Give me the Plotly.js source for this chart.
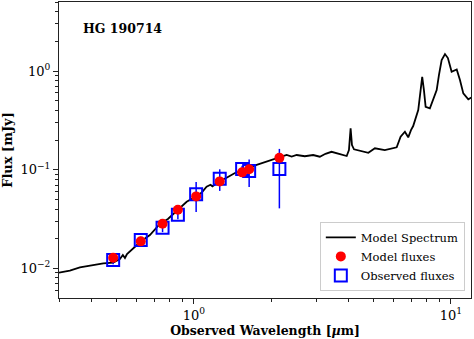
<!DOCTYPE html>
<html>
<head>
<meta charset="utf-8">
<script src="https://cdn.plot.ly/plotly-3.0.1.min.js"></script>
<style>
  body { margin: 0; background: #fff; }
  #sed { width: 474px; height: 339px; }
</style>
</head>
<body>
<div id="sed"></div>
<script>
// model spectrum
const specWave = [
  0.2985, 0.329, 0.36, 0.401, 0.444, 0.485, 0.515, 0.529, 0.539, 0.549,
  0.585, 0.621, 0.674, 0.737, 0.792, 0.867, 0.937, 1.021, 1.07, 1.12,
  1.16, 1.18, 1.259, 1.34, 1.444, 1.52, 1.603, 1.742, 1.918, 2.161,
  2.295, 2.4, 2.51, 2.7, 2.91, 3.09, 3.25, 3.43, 3.56, 3.7,
  3.93, 4.01, 4.07, 4.12, 4.195, 4.43, 4.77, 5.06, 5.53, 6.15,
  6.37, 6.62, 6.82, 6.99, 7.13, 7.46, 7.61, 7.73, 7.85, 7.97,
  8.28, 8.59, 8.8, 8.98, 9.2, 9.48, 9.73, 10.06, 10.53, 10.84,
  11.17, 11.68, 12.15,
];
const specFlux = [
  0.00904, 0.00952, 0.01026, 0.0108, 0.01127, 0.01142, 0.01245, 0.01368, 0.01274, 0.014,
  0.0161, 0.01874, 0.0218, 0.0282, 0.0317, 0.0391, 0.0474, 0.0538, 0.0585, 0.0673,
  0.0705, 0.068, 0.0763, 0.083, 0.0926, 0.0965, 0.1033, 0.1116, 0.1205, 0.1336,
  0.141, 0.136, 0.141, 0.137, 0.141, 0.1355, 0.145, 0.152, 0.147, 0.144,
  0.1377, 0.158, 0.2627, 0.178, 0.161, 0.1546, 0.1486, 0.165, 0.158, 0.1686,
  0.216, 0.2425, 0.213, 0.2524, 0.2773, 0.4027, 0.642, 0.875, 0.642, 0.435,
  0.419, 0.529, 0.642, 0.911, 1.292, 1.486, 1.355, 0.984, 1.04, 0.811,
  0.594, 0.517, 0.549,
];

// photometry
const bandWave = [0.485, 0.621, 0.755, 0.866, 1.02, 1.26, 1.54, 1.64, 2.15];
const modelFlux = [0.0128, 0.0188, 0.0284, 0.0393, 0.0537, 0.0762, 0.0941, 0.101, 0.132];
const obsFlux = [0.0122, 0.0194, 0.0258, 0.035, 0.0563, 0.081, 0.1016, 0.097, 0.1016];
const obsErr = [0.0012, 0.0015, 0.0025, 0.0035, 0.019, 0.02, 0.008, 0.03, 0.061];

// tick labels
const xTickVals = [1, 10];
const xTickText = ["10<sup>0</sup>", "10<sup>1</sup>"];
const yTickVals = [0.01, 0.1, 1];
const yTickText = ["10<sup>\u22122</sup>", "10<sup>\u22121</sup>", "10<sup>0</sup>"];

function minorTicks(lo, hi) {
  const vals = [];
  for (let d = lo; d <= hi; d++) {
    for (let k = 2; k <= 9; k++) vals.push(k * Math.pow(10, d));
  }
  return vals;
}

function plotSED() {
  const serif = "DejaVu Serif, serif";

  const spectrum = {
    x: specWave,
    y: specFlux,
    mode: "lines",
    type: "scatter",
    name: "Model Spectrum",
    line: { color: "black", width: 1.8 },
    legendrank: 1,
  };

  const observed = {
    x: bandWave,
    y: obsFlux,
    mode: "markers",
    type: "scatter",
    name: "Observed fluxes",
    marker: {
      symbol: "square-open",
      size: 12,
      color: "#0000ff",
      line: { width: 2, color: "#0000ff" },
    },
    error_y: {
      type: "data",
      array: obsErr,
      color: "#0000ff",
      thickness: 1.5,
      width: 0,
    },
    legendrank: 3,
  };

  const model = {
    x: bandWave,
    y: modelFlux,
    mode: "markers",
    type: "scatter",
    name: "Model fluxes",
    marker: { symbol: "circle", size: 10, color: "#ff0000" },
    legendrank: 2,
  };

  const axisCommon = {
    type: "log",
    showline: true,
    mirror: true,
    linecolor: "#222",
    linewidth: 1,
    showgrid: false,
    zeroline: false,
    ticks: "outside",
    ticklen: 5,
    tickwidth: 1,
    tickcolor: "#222",
    tickmode: "array",
    tickfont: { family: serif, size: 13, color: "black" },
  };

  const layout = {
    width: 474,
    height: 339,
    margin: { l: 59, r: 3, t: 2, b: 41 },
    paper_bgcolor: "white",
    plot_bgcolor: "white",
    showlegend: true,
    xaxis: Object.assign({}, axisCommon, {
      range: [-0.525, 1.078],
      tickvals: xTickVals,
      ticktext: xTickText,
      minor: { tickmode: "array", tickvals: minorTicks(-1, 1), ticks: "outside", ticklen: 3, tickcolor: "#222" },
      title: {
        text: "<b>Observed Wavelength [<i>\u00b5</i>m]</b>",
        font: { family: serif, size: 12.5, color: "black" },
        standoff: 1,
      },
    }),
    yaxis: Object.assign({}, axisCommon, {
      range: [-2.3, 0.7],
      tickvals: yTickVals,
      ticktext: yTickText,
      minor: { tickmode: "array", tickvals: minorTicks(-3, 0), ticks: "outside", ticklen: 3, tickcolor: "#222" },
      title: {
        text: "<b>Flux [mJy]</b>",
        font: { family: serif, size: 13, color: "black" },
        standoff: 5,
      },
    }),
    legend: {
      x: 0.985,
      xanchor: "right",
      y: 0.024,
      yanchor: "bottom",
      bgcolor: "rgba(255,255,255,0.9)",
      bordercolor: "#cccccc",
      borderwidth: 1,
      font: { family: serif, size: 11.5, color: "black" },
      tracegroupgap: 0,
      itemwidth: 30,
    },
    annotations: [
      {
        text: "<b>HG 190714</b>",
        xref: "paper",
        yref: "paper",
        x: 0.053,
        y: 0.912,
        xanchor: "left",
        yanchor: "middle",
        showarrow: false,
        font: { family: serif, size: 12.5, color: "black" },
      },
    ],
  };

  Plotly.newPlot("sed", [spectrum, observed, model], layout, { displayModeBar: false, staticPlot: true });
}

plotSED();
</script>
</body>
</html>
